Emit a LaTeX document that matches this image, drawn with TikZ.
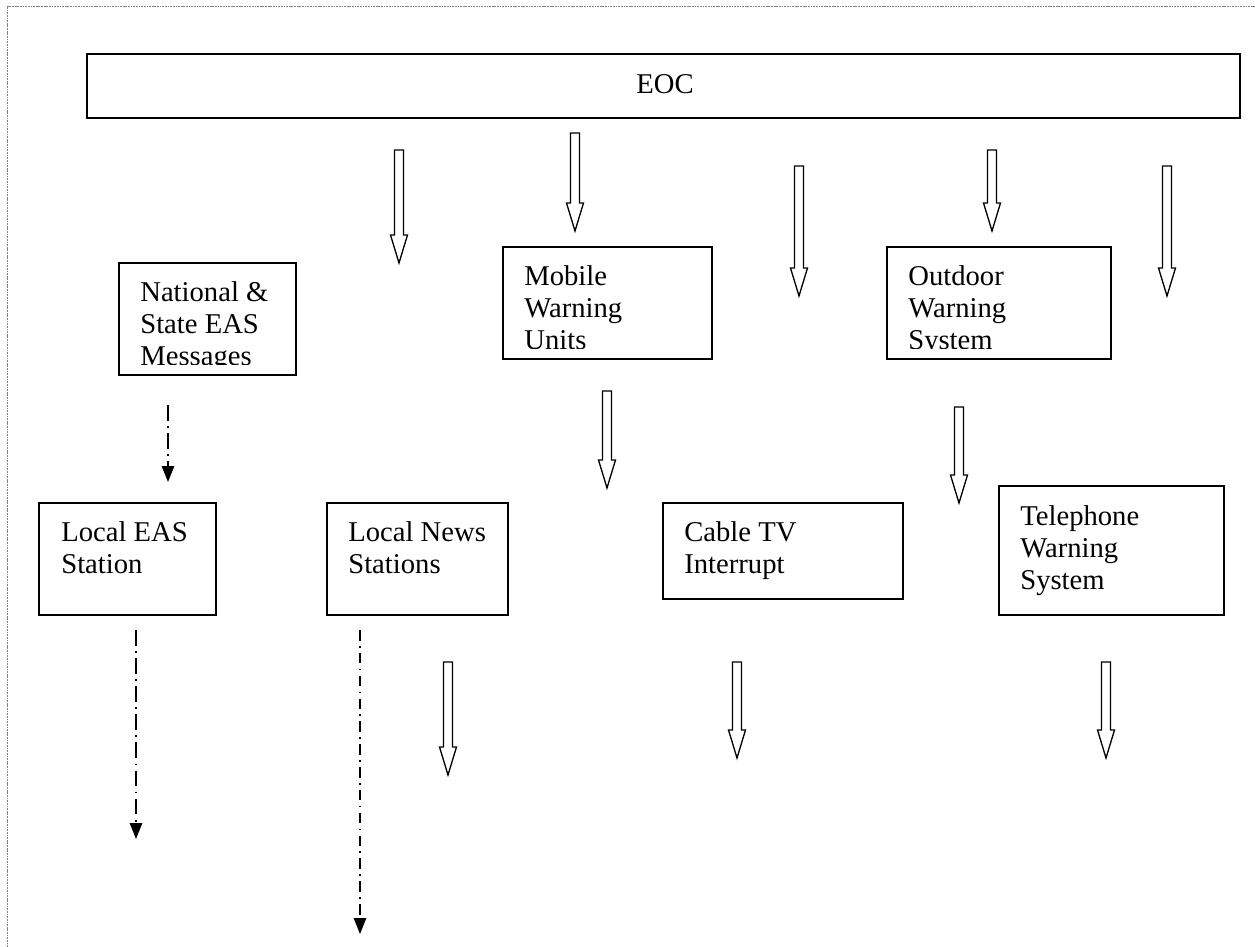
\documentclass[tikz,border=0pt]{standalone}
\usepackage{fontspec}
\setmainfont{Liberation Serif}
\usetikzlibrary{arrows.meta}
\tikzset{
  box/.style={draw, line width=0.75pt, inner sep=0pt},
  eocbox/.style={draw, line width=1.2pt, inner sep=0pt},
  lbl/.style={inner sep=0pt, align=left, font=\fontsize{16.3}{18.2}\selectfont},
  blk/.style={draw, line width=0.75pt, fill=white, line join=miter},
  dashdotA/.style={line width=0.8pt, dash pattern=on 9pt off 3pt on 1pt off 3pt, -{Triangle[width=7pt,length=9pt]}},
  dashdotB/.style={line width=0.8pt, dash pattern=on 6pt off 3pt on 1pt off 3pt, -{Triangle[width=7pt,length=9pt]}},
  frame/.style={draw=gray, line width=0.5pt, dash pattern=on 1pt off 0.5pt}
}
% hollow block arrow: name, x, ytop, ytip
\newcommand\hollowarrow[4]{%
  \coordinate (#1) at (#2,#3);
  \draw[blk] ({#2-4.5},#3) -- ({#2+4.5},#3) -- ({#2+4.5},{#4-28}) -- ({#2+8.5},{#4-28})
    -- (#2,#4) -- ({#2-8.5},{#4-28}) -- ({#2-4.5},{#4-28}) -- cycle;}
% box with clipped text: name, x1, y1, x2, y2, text x, last baseline y, clip y, text
\newcommand\clipbox[9]{%
  \node[box, minimum width={(#4-#2)*0.02cm}, minimum height={(#5-#3)*0.02cm}] (#1) at ({(#2+#4)/2},{(#3+#5)/2}) {};
  \begin{scope}
    \clip (#2,#3) rectangle (#4,#8);
    \node[lbl, anchor=base west] (#1T) at (#6,#7) {#9};
  \end{scope}}
\begin{document}
\begin{tikzpicture}[x=0.02cm, y=-0.02cm]
\useasboundingbox (0,0) rectangle (1255,947);
% page frame
\coordinate (f1) at (7,947);
\coordinate (f2) at (7,6);
\coordinate (f3) at (1255,6);
\draw[frame] (f1) -- (f2) -- (f3);

% EOC
\node[eocbox, minimum width=23.06cm, minimum height=1.28cm] (eoc) at (663.5,86) {};
\node[lbl, anchor=base] (eocT) at (665,93) {EOC};

% first row arrows from EOC
\hollowarrow{a1}{399}{150}{263}
\hollowarrow{a2}{575}{133}{231}
\hollowarrow{a3}{799}{166}{296}
\hollowarrow{a4}{992}{150}{231}
\hollowarrow{a5}{1167}{166}{296}

% second row boxes
\clipbox{nat}{119}{263}{296}{375}{140}{365}{364}{National \&\\State EAS\\Messages}
\clipbox{mob}{503}{247}{712}{359}{524}{349}{348}{Mobile\\Warning\\Units}
\clipbox{out}{887}{247}{1111}{359}{908}{349}{348}{Outdoor\\Warning\\System}

% arrows below mobile / outdoor
\hollowarrow{a6}{607}{391}{488}
\hollowarrow{a7}{959}{407}{503}

% dash-dot arrow national -> local EAS
\coordinate (d1s) at (168,405);
\coordinate (d1e) at (168,482);
\draw[dashdotA] (d1s) -- (d1e);

% third row boxes
\clipbox{leas}{39}{503}{216}{615}{61}{573}{615}{Local EAS\\Station}
\clipbox{lnews}{327}{503}{508}{615}{348}{573}{615}{Local News\\Stations}
\clipbox{cable}{663}{503}{903}{599}{684}{573}{599}{Cable TV\\Interrupt}
\clipbox{tel}{999}{486}{1224}{615}{1020}{589}{615}{Telephone\\Warning\\System}

% bottom arrows
\hollowarrow{a8}{448}{662}{775}
\hollowarrow{a9}{737}{662}{758}
\hollowarrow{a10}{1106}{662}{758}

\coordinate (d2s) at (136,630);
\coordinate (d2e) at (136,839);
\draw[dashdotA] (d2s) -- (d2e);
\coordinate (d3s) at (360,630);
\coordinate (d3e) at (360,934);
\draw[dashdotB] (d3s) -- (d3e);
\end{tikzpicture}
\end{document}
